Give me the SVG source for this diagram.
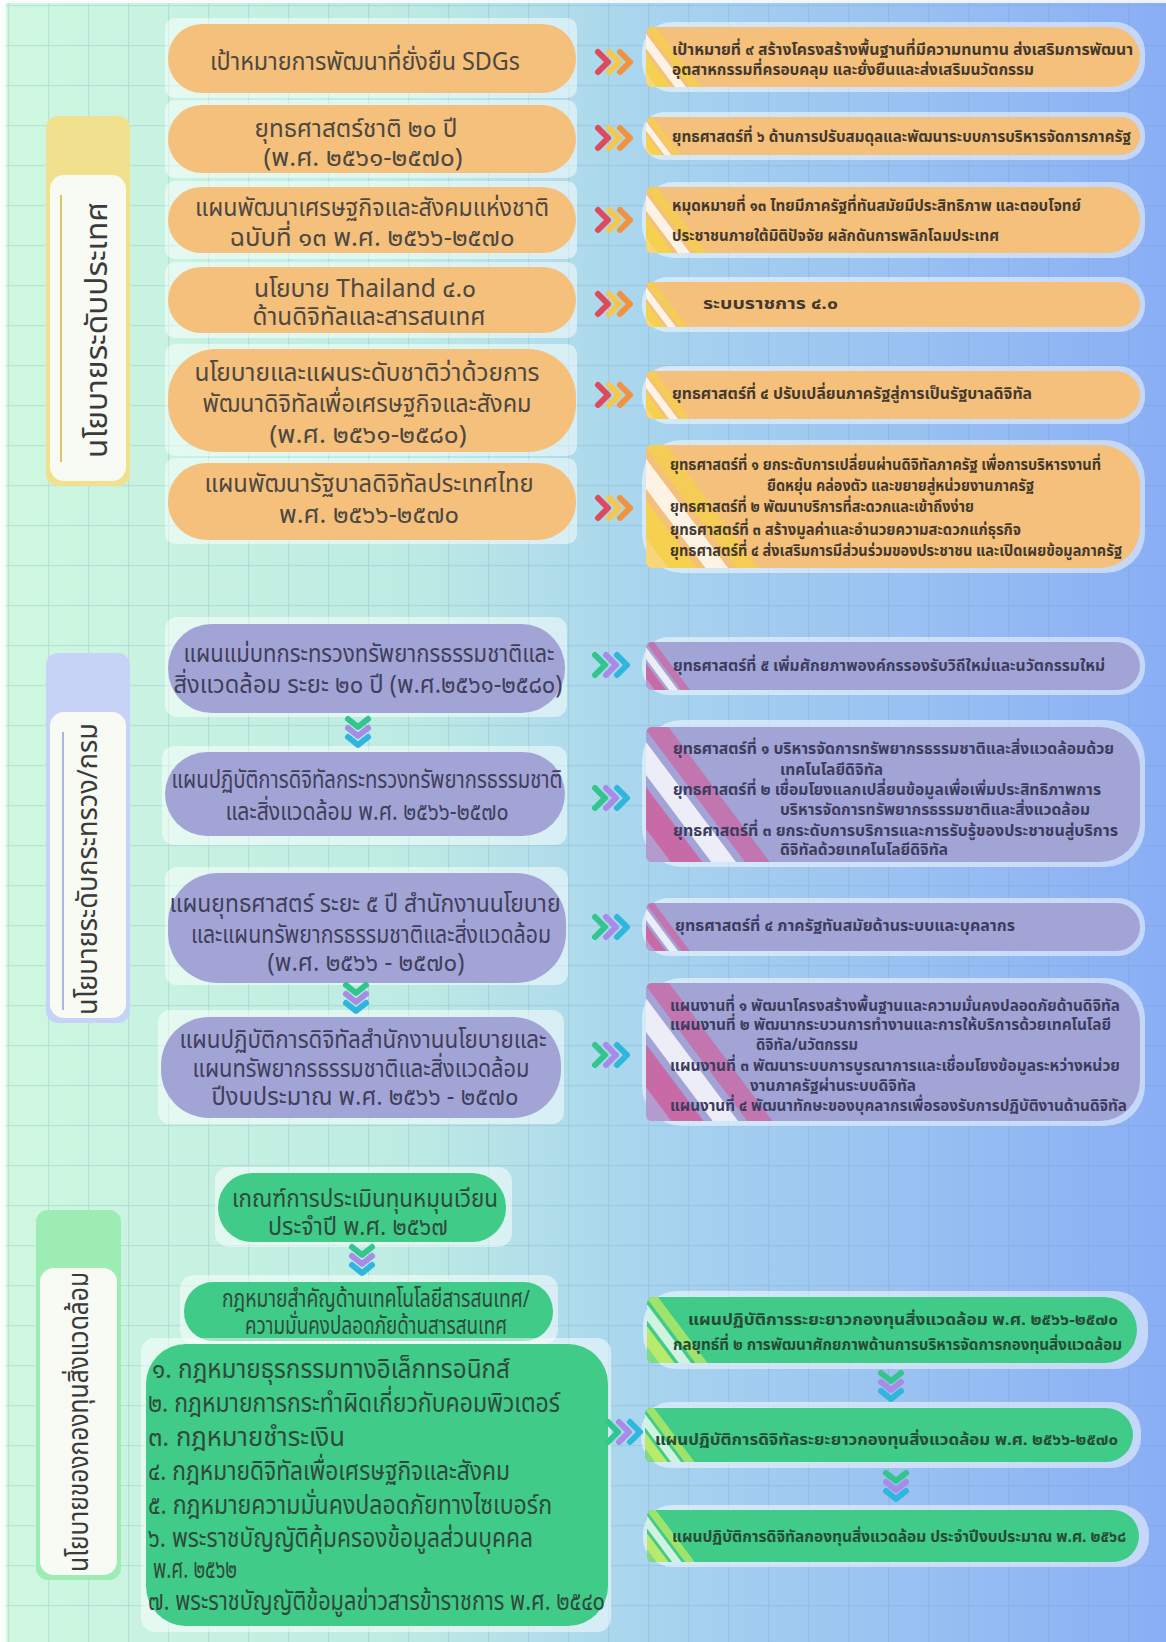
<svg xmlns="http://www.w3.org/2000/svg" xmlns:xlink="http://www.w3.org/1999/xlink" width="1166" height="1642" viewBox="0 0 1166 1642">
<style>
.t{font-family:"Noto Sans Thai","Noto Sans","DejaVu Sans","Liberation Sans",sans-serif}
.halo{fill:#ffffff;fill-opacity:.5}
.po{fill:#f4c07b}
.pp{fill:#a3a4d6}
.pg{fill:#40cb88}
.tl{font-size:25px;fill:#4e4842;text-anchor:middle}
.tlp{font-size:25px;fill:#3f3f5c;text-anchor:middle}
.tlg{font-size:24px;fill:#2f4a3c;text-anchor:middle}
.tg3{font-size:26px;fill:#2f4a3c}
.tr{font-size:16px;font-weight:bold;fill:#43392e}
.trp{font-size:16px;font-weight:bold;fill:#3c3c5e}
.trg{font-size:16px;font-weight:bold;fill:#264a36}
.lab{font-size:31px;fill:#3a3a3a;text-anchor:middle}
.ch{fill:none;stroke-width:6;stroke-linecap:round;stroke-linejoin:round}
</style>
<defs>
<linearGradient id="bg" x1="0" y1="0" x2="1" y2="0">
<stop offset="0" stop-color="#d0f8e0"/>
<stop offset="0.35" stop-color="#bdebe3"/>
<stop offset="0.55" stop-color="#a9d5ee"/>
<stop offset="1" stop-color="#8aaef5"/>
</linearGradient>
<pattern id="grid" x="8" y="5" width="40" height="40" patternUnits="userSpaceOnUse">
<path d="M0,0.5 H40 M0.5,0 V40" fill="none" stroke="#6f98c0" stroke-opacity="0.22" stroke-width="1.5"/>
</pattern>
<g id="chO">
<polyline class="ch" points="0,-10 10,0 0,10" stroke="#de4a5c"/>
<polyline class="ch" points="11,-10 21,0 11,10" stroke="#f4c84f"/>
<polyline class="ch" points="22,-10 32,0 22,10" stroke="#f2923f"/>
</g>
<g id="chP">
<polyline class="ch" points="0,-10 10,0 0,10" stroke="#34c48e"/>
<polyline class="ch" points="11,-10 21,0 11,10" stroke="#a88be6"/>
<polyline class="ch" points="22,-10 32,0 22,10" stroke="#2fb6dc"/>
</g>
<g id="chD">
<polyline class="ch" points="-10,0 0,8 10,0" stroke="#34c48e" stroke-width="5"/>
<polyline class="ch" points="-10,9 0,17 10,9" stroke="#a88be6" stroke-width="5"/>
<polyline class="ch" points="-10,18 0,26 10,18" stroke="#2fb6dc" stroke-width="5"/>
</g>
<g id="stO">
<polygon points="-80,0 -34,0 11,60 -80,60" fill="#f7d77a"/>
<polygon points="-34,0 -20,0 25,60 11,60" fill="#f6d04f"/>
<polygon points="-16,0 -5,0 40,60 29,60" fill="#ffffff" fill-opacity=".8"/>
<polygon points="-1,0 10,0 55,60 44,60" fill="#f5cc55"/>
</g>
<g id="stP">
<polygon points="-80,0 -34,0 11,60 -80,60" fill="#b59ad0"/>
<polygon points="-34,0 -20,0 25,60 11,60" fill="#c76aa6"/>
<polygon points="-16,0 -5,0 40,60 29,60" fill="#ffffff" fill-opacity=".8"/>
<polygon points="-1,0 10,0 55,60 44,60" fill="#c176b0"/>
</g>
<g id="stG">
<polygon points="-80,0 -34,0 11,60 -80,60" fill="#7fdc84"/>
<polygon points="-34,0 -20,0 25,60 11,60" fill="#b8ea6c"/>
<polygon points="-16,0 -5,0 40,60 29,60" fill="#ffffff" fill-opacity=".75"/>
<polygon points="-1,0 10,0 55,60 44,60" fill="#9ee36b"/>
</g>
<path id="pR1" d="M652,27 H1110 A30,30 0 0 1 1110,87 H652 A6,6 0 0 1 646,81 V33 A6,6 0 0 1 652,27 Z"/>
<path id="pR2" d="M652,117 H1121 A19,19 0 0 1 1121,155 H652 A6,6 0 0 1 646,149 V123 A6,6 0 0 1 652,117 Z"/>
<path id="pR3" d="M652,187 H1107 A33,33 0 0 1 1107,253 H652 A6,6 0 0 1 646,247 V193 A6,6 0 0 1 652,187 Z"/>
<path id="pR4" d="M652,282 H1117.5 A22.5,22.5 0 0 1 1117.5,327 H652 A6,6 0 0 1 646,321 V288 A6,6 0 0 1 652,282 Z"/>
<path id="pR5" d="M652,371 H1116 A24,24 0 0 1 1116,419 H652 A6,6 0 0 1 646,413 V377 A6,6 0 0 1 652,371 Z"/>
<path id="pR6" d="M652,445 H1100 A40,40 0 0 1 1140,485 V528 A40,40 0 0 1 1100,568 H652 A6,6 0 0 1 646,562 V451 A6,6 0 0 1 652,445 Z"/>
<path id="pP1" d="M652,642 H1116 A24,24 0 0 1 1116,690 H652 A6,6 0 0 1 646,684 V648 A6,6 0 0 1 652,642 Z"/>
<path id="pP2" d="M652,727 H1100 A40,40 0 0 1 1140,767 V822 A40,40 0 0 1 1100,862 H652 A6,6 0 0 1 646,856 V733 A6,6 0 0 1 652,727 Z"/>
<path id="pP3" d="M652,903 H1116 A24,24 0 0 1 1116,951 H652 A6,6 0 0 1 646,945 V909 A6,6 0 0 1 652,903 Z"/>
<path id="pP4" d="M652,983 H1100 A40,40 0 0 1 1140,1023 V1081 A40,40 0 0 1 1100,1121 H652 A6,6 0 0 1 646,1115 V989 A6,6 0 0 1 652,983 Z"/>
<path id="pG1" d="M653,1297 H1104 A33,33 0 0 1 1104,1363 H653 A6,6 0 0 1 647,1357 V1303 A6,6 0 0 1 653,1297 Z"/>
<path id="pG2" d="M651,1408 H1106 A27,27 0 0 1 1106,1462 H651 A6,6 0 0 1 645,1456 V1414 A6,6 0 0 1 651,1408 Z"/>
<path id="pG3" d="M653,1510 H1113 A26,26 0 0 1 1113,1562 H653 A6,6 0 0 1 647,1556 V1516 A6,6 0 0 1 653,1510 Z"/>
<clipPath id="cR1"><use xlink:href="#pR1"/></clipPath>
<clipPath id="cR2"><use xlink:href="#pR2"/></clipPath>
<clipPath id="cR3"><use xlink:href="#pR3"/></clipPath>
<clipPath id="cR4"><use xlink:href="#pR4"/></clipPath>
<clipPath id="cR5"><use xlink:href="#pR5"/></clipPath>
<clipPath id="cR6"><use xlink:href="#pR6"/></clipPath>
<clipPath id="cP1"><use xlink:href="#pP1"/></clipPath>
<clipPath id="cP2"><use xlink:href="#pP2"/></clipPath>
<clipPath id="cP3"><use xlink:href="#pP3"/></clipPath>
<clipPath id="cP4"><use xlink:href="#pP4"/></clipPath>
<clipPath id="cG1"><use xlink:href="#pG1"/></clipPath>
<clipPath id="cG2"><use xlink:href="#pG2"/></clipPath>
<clipPath id="cG3"><use xlink:href="#pG3"/></clipPath>
</defs>

<!-- background -->
<rect x="0" y="0" width="1166" height="1642" fill="url(#bg)"/>
<rect x="0" y="0" width="1166" height="1642" fill="url(#grid)"/>
<rect x="0" y="0" width="6" height="1642" fill="#ffffff" fill-opacity=".85"/>
<rect x="0" y="0" width="1166" height="3" fill="#ffffff" fill-opacity=".85"/>

<!-- section labels -->
<g id="label-national">
<rect x="46" y="116" width="84" height="370" rx="12" fill="#f1e08e"/>
<rect x="50" y="175" width="76" height="306" rx="14" fill="#f8fbf4"/>
<line x1="61" y1="195" x2="61" y2="462" stroke="#d8c56a" stroke-width="2"/>
<text class="t lab" transform="translate(107,330) rotate(-90)" textLength="256" lengthAdjust="spacingAndGlyphs">นโยบายระดับประเทศ</text>
</g>
<g id="label-ministry">
<rect x="46" y="653" width="84" height="370" rx="12" fill="#c6d2f6"/>
<rect x="50" y="712" width="76" height="306" rx="14" fill="#f8fbf4"/>
<line x1="63" y1="732" x2="63" y2="1010" stroke="#aab6e2" stroke-width="2"/>
<text class="t lab" style="font-size:28px" transform="translate(97,869) rotate(-90)" textLength="292" lengthAdjust="spacingAndGlyphs">นโยบายระดับกระทรวง/กรม</text>
</g>
<g id="label-fund">
<rect x="36" y="1210" width="85" height="370" rx="12" fill="#9cecb3"/>
<rect x="40" y="1268" width="77" height="307" rx="14" fill="#f8fbf4"/>
<text class="t lab" style="font-size:28px" transform="translate(88,1422) rotate(-90)" textLength="300" lengthAdjust="spacingAndGlyphs">นโยบายของกองทุนสิ่งแวดล้อม</text>
</g>

<!-- left orange nodes -->
<g id="n-sdgs">
<rect class="halo" x="165" y="18" width="412" height="80" rx="10"/>
<rect class="po" x="168" y="24" width="408" height="69" rx="34"/>
<text class="t tl" x="365" y="70" textLength="310" lengthAdjust="spacingAndGlyphs">เป้าหมายการพัฒนาที่ยั่งยืน SDGs</text>
</g>
<g id="n-strategy20">
<rect class="halo" x="165" y="100" width="412" height="78" rx="10"/>
<rect class="po" x="168" y="105" width="408" height="68" rx="34"/>
<text class="t tl" x="356" y="137" textLength="203" lengthAdjust="spacingAndGlyphs">ยุทธศาสตร์ชาติ ๒๐ ปี</text>
<text class="t tl" x="363" y="166" textLength="199" lengthAdjust="spacingAndGlyphs">(พ.ศ. ๒๕๖๑-๒๕๗๐)</text>
</g>
<g id="n-nesdp13">
<rect class="halo" x="165" y="181" width="412" height="78" rx="10"/>
<rect class="po" x="168" y="187" width="408" height="66" rx="33"/>
<text class="t tl" x="372" y="216" textLength="354" lengthAdjust="spacingAndGlyphs">แผนพัฒนาเศรษฐกิจและสังคมแห่งชาติ</text>
<text class="t tl" x="372" y="246" textLength="285" lengthAdjust="spacingAndGlyphs">ฉบับที่ ๑๓ พ.ศ. ๒๕๖๖-๒๕๗๐</text>
</g>
<g id="n-thailand40">
<rect class="halo" x="165" y="262" width="412" height="76" rx="10"/>
<rect class="po" x="168" y="267" width="408" height="66" rx="33"/>
<text class="t tl" x="365" y="297" textLength="222" lengthAdjust="spacingAndGlyphs">นโยบาย Thailand ๔.๐</text>
<text class="t tl" x="369" y="325" textLength="233" lengthAdjust="spacingAndGlyphs">ด้านดิจิทัลและสารสนเทศ</text>
</g>
<g id="n-digital-policy">
<rect class="halo" x="165" y="344" width="412" height="112" rx="10"/>
<rect class="po" x="168" y="349" width="408" height="103" rx="48"/>
<text class="t tl" x="367" y="381" textLength="345" lengthAdjust="spacingAndGlyphs">นโยบายและแผนระดับชาติว่าด้วยการ</text>
<text class="t tl" x="367" y="412" textLength="329" lengthAdjust="spacingAndGlyphs">พัฒนาดิจิทัลเพื่อเศรษฐกิจและสังคม</text>
<text class="t tl" x="368" y="443" textLength="197" lengthAdjust="spacingAndGlyphs">(พ.ศ. ๒๕๖๑-๒๕๘๐)</text>
</g>
<g id="n-digital-gov">
<rect class="halo" x="165" y="458" width="412" height="86" rx="10"/>
<rect class="po" x="168" y="463" width="408" height="77" rx="38"/>
<text class="t tl" x="369" y="492" textLength="329" lengthAdjust="spacingAndGlyphs">แผนพัฒนารัฐบาลดิจิทัลประเทศไทย</text>
<text class="t tl" x="369" y="523" textLength="180" lengthAdjust="spacingAndGlyphs">พ.ศ. ๒๕๖๖-๒๕๗๐</text>
</g>

<!-- right orange nodes -->
<g id="r-sdg9">
<rect class="halo" x="642" y="22" width="503" height="70" rx="30"/>
<use xlink:href="#pR1" class="po"/>
<g clip-path="url(#cR1)"><use xlink:href="#stO" transform="translate(646,27) scale(1)"/></g>
<text class="t tr" x="672" y="55" textLength="461" lengthAdjust="spacingAndGlyphs">เป้าหมายที่ ๙ สร้างโครงสร้างพื้นฐานที่มีความทนทาน ส่งเสริมการพัฒนา</text>
<text class="t tr" x="672" y="75" textLength="362" lengthAdjust="spacingAndGlyphs">อุตสาหกรรมที่ครอบคลุม และยั่งยืนและส่งเสริมนวัตกรรม</text>
</g>
<g id="r-strategy6">
<rect class="halo" x="642" y="112" width="503" height="48" rx="22"/>
<use xlink:href="#pR2" class="po"/>
<g clip-path="url(#cR2)"><use xlink:href="#stO" transform="translate(646,117) scale(0.633)"/></g>
<text class="t tr" x="672" y="142" textLength="459" lengthAdjust="spacingAndGlyphs">ยุทธศาสตร์ที่ ๖ ด้านการปรับสมดุลและพัฒนาระบบการบริหารจัดการภาครัฐ</text>
</g>
<g id="r-milestone13">
<rect class="halo" x="642" y="182" width="503" height="76" rx="32"/>
<use xlink:href="#pR3" class="po"/>
<g clip-path="url(#cR3)"><use xlink:href="#stO" transform="translate(646,187) scale(1.1)"/></g>
<text class="t tr" x="672" y="211" textLength="409" lengthAdjust="spacingAndGlyphs">หมุดหมายที่ ๑๓ ไทยมีภาครัฐที่ทันสมัยมีประสิทธิภาพ และตอบโจทย์</text>
<text class="t tr" x="672" y="241" textLength="327" lengthAdjust="spacingAndGlyphs">ประชาชนภายใต้มิติปัจจัย ผลักดันการพลิกโฉมประเทศ</text>
</g>
<g id="r-gov40">
<rect class="halo" x="642" y="277" width="503" height="55" rx="26"/>
<use xlink:href="#pR4" class="po"/>
<g clip-path="url(#cR4)"><use xlink:href="#stO" transform="translate(646,282) scale(0.75)"/></g>
<text class="t tr" x="703" y="309" textLength="135" lengthAdjust="spacingAndGlyphs">ระบบราชการ ๔.๐</text>
</g>
<g id="r-strategy4">
<rect class="halo" x="642" y="366" width="503" height="58" rx="27"/>
<use xlink:href="#pR5" class="po"/>
<g clip-path="url(#cR5)"><use xlink:href="#stO" transform="translate(646,371) scale(0.8)"/></g>
<text class="t tr" x="672" y="399" textLength="360" lengthAdjust="spacingAndGlyphs">ยุทธศาสตร์ที่ ๔ ปรับเปลี่ยนภาครัฐสู่การเป็นรัฐบาลดิจิทัล</text>
</g>
<g id="r-digitalgov-strategies">
<rect class="halo" x="642" y="440" width="503" height="133" rx="40"/>
<use xlink:href="#pR6" class="po"/>
<g clip-path="url(#cR6)"><use xlink:href="#stO" transform="translate(646,445) scale(2.05)"/></g>
<text class="t tr" x="670" y="470" textLength="431" lengthAdjust="spacingAndGlyphs">ยุทธศาสตร์ที่ ๑ ยกระดับการเปลี่ยนผ่านดิจิทัลภาครัฐ เพื่อการบริหารงานที่</text>
<text class="t tr" x="767" y="491" textLength="267" lengthAdjust="spacingAndGlyphs">ยืดหยุ่น คล่องตัว และขยายสู่หน่วยงานภาครัฐ</text>
<text class="t tr" x="670" y="512" textLength="304" lengthAdjust="spacingAndGlyphs">ยุทธศาสตร์ที่ ๒ พัฒนาบริการที่สะดวกและเข้าถึงง่าย</text>
<text class="t tr" x="670" y="535" textLength="351" lengthAdjust="spacingAndGlyphs">ยุทธศาสตร์ที่ ๓  สร้างมูลค่าและอำนวยความสะดวกแก่ธุรกิจ</text>
<text class="t tr" x="670" y="556" textLength="452" lengthAdjust="spacingAndGlyphs">ยุทธศาสตร์ที่ ๔ ส่งเสริมการมีส่วนร่วมของประชาชน และเปิดเผยข้อมูลภาครัฐ</text>
</g>

<!-- left purple nodes -->
<g id="n-mnre-master">
<rect class="halo" x="165" y="617" width="402" height="100" rx="12"/>
<rect class="pp" x="168" y="624" width="397" height="89" rx="44"/>
<text class="t tlp" x="369" y="662" textLength="371" lengthAdjust="spacingAndGlyphs">แผนแม่บทกระทรวงทรัพยากรธรรมชาติและ</text>
<text class="t tlp" x="368" y="693" textLength="389" lengthAdjust="spacingAndGlyphs">สิ่งแวดล้อม ระยะ ๒๐ ปี (พ.ศ.๒๕๖๑-๒๕๘๐)</text>
</g>
<g id="n-mnre-digital">
<rect class="halo" x="162" y="746" width="405" height="99" rx="12"/>
<rect class="pp" x="165" y="752" width="400" height="84" rx="42"/>
<text class="t tlp" x="367" y="788" textLength="391" lengthAdjust="spacingAndGlyphs">แผนปฏิบัติการดิจิทัลกระทรวงทรัพยากรธรรมชาติ</text>
<text class="t tlp" x="367" y="820" textLength="283" lengthAdjust="spacingAndGlyphs">และสิ่งแวดล้อม พ.ศ. ๒๕๖๖-๒๕๗๐</text>
</g>
<g id="n-onep-strategy">
<rect class="halo" x="165" y="867" width="403" height="118" rx="12"/>
<rect class="pp" x="168" y="873" width="398" height="110" rx="50"/>
<text class="t tlp" x="365" y="912" textLength="391" lengthAdjust="spacingAndGlyphs">แผนยุทธศาสตร์ ระยะ ๕ ปี สำนักงานนโยบาย</text>
<text class="t tlp" x="371" y="943" textLength="360" lengthAdjust="spacingAndGlyphs">และแผนทรัพยากรธรรมชาติและสิ่งแวดล้อม</text>
<text class="t tlp" x="366" y="971" textLength="197" lengthAdjust="spacingAndGlyphs">(พ.ศ. ๒๕๖๖ - ๒๕๗๐)</text>
</g>
<g id="n-onep-digital">
<rect class="halo" x="158" y="1010" width="406" height="114" rx="12"/>
<rect class="pp" x="161" y="1017" width="400" height="101" rx="48"/>
<text class="t tlp" x="363" y="1048" textLength="367" lengthAdjust="spacingAndGlyphs">แผนปฏิบัติการดิจิทัลสำนักงานนโยบายและ</text>
<text class="t tlp" x="361" y="1077" textLength="337" lengthAdjust="spacingAndGlyphs">แผนทรัพยากรธรรมชาติและสิ่งแวดล้อม</text>
<text class="t tlp" x="365" y="1105" textLength="307" lengthAdjust="spacingAndGlyphs">ปีงบประมาณ พ.ศ. ๒๕๖๖ - ๒๕๗๐</text>
</g>

<!-- right purple nodes -->
<g id="r-mnre-s5">
<rect class="halo" x="642" y="637" width="503" height="58" rx="27"/>
<use xlink:href="#pP1" class="pp"/>
<g clip-path="url(#cP1)"><use xlink:href="#stP" transform="translate(646,642) scale(0.8)"/></g>
<text class="t trp" x="673" y="671" textLength="432" lengthAdjust="spacingAndGlyphs">ยุทธศาสตร์ที่ ๕ เพิ่มศักยภาพองค์กรรองรับวิถีใหม่และนวัตกรรมใหม่</text>
</g>
<g id="r-mnre-digital-s">
<rect class="halo" x="642" y="720" width="503" height="147" rx="40"/>
<use xlink:href="#pP2" class="pp"/>
<g clip-path="url(#cP2)"><use xlink:href="#stP" transform="translate(646,727) scale(2.25)"/></g>
<text class="t trp" x="673" y="754" textLength="441" lengthAdjust="spacingAndGlyphs">ยุทธศาสตร์ที่ ๑ บริหารจัดการทรัพยากรธรรมชาติและสิ่งแวดล้อมด้วย</text>
<text class="t trp" x="780" y="775" textLength="103" lengthAdjust="spacingAndGlyphs">เทคโนโลยีดิจิทัล</text>
<text class="t trp" x="673" y="795" textLength="428" lengthAdjust="spacingAndGlyphs">ยุทธศาสตร์ที่ ๒ เชื่อมโยงแลกเปลี่ยนข้อมูลเพื่อเพิ่มประสิทธิภาพการ</text>
<text class="t trp" x="780" y="815" textLength="310" lengthAdjust="spacingAndGlyphs">บริหารจัดการทรัพยากรธรรมชาติและสิ่งแวดล้อม</text>
<text class="t trp" x="673" y="836" textLength="445" lengthAdjust="spacingAndGlyphs">ยุทธศาสตร์ที่ ๓ ยกระดับการบริการและการรับรู้ของประชาชนสู่บริการ</text>
<text class="t trp" x="780" y="855" textLength="168" lengthAdjust="spacingAndGlyphs">ดิจิทัลด้วยเทคโนโลยีดิจิทัล</text>
</g>
<g id="r-onep-s4">
<rect class="halo" x="642" y="898" width="503" height="58" rx="27"/>
<use xlink:href="#pP3" class="pp"/>
<g clip-path="url(#cP3)"><use xlink:href="#stP" transform="translate(646,903) scale(0.8)"/></g>
<text class="t trp" x="675" y="931" textLength="340" lengthAdjust="spacingAndGlyphs">ยุทธศาสตร์ที่ ๔ ภาครัฐทันสมัยด้านระบบและบุคลากร</text>
</g>
<g id="r-onep-plans">
<rect class="halo" x="642" y="978" width="503" height="148" rx="40"/>
<use xlink:href="#pP4" class="pp"/>
<g clip-path="url(#cP4)"><use xlink:href="#stP" transform="translate(646,983) scale(2.3)"/></g>
<text class="t trp" x="670" y="1011" textLength="450" lengthAdjust="spacingAndGlyphs">แผนงานที่ ๑ พัฒนาโครงสร้างพื้นฐานและความมั่นคงปลอดภัยด้านดิจิทัล</text>
<text class="t trp" x="670" y="1030" textLength="441" lengthAdjust="spacingAndGlyphs">แผนงานที่ ๒ พัฒนากระบวนการทำงานและการให้บริการด้วยเทคโนโลยี</text>
<text class="t trp" x="756" y="1050" textLength="102" lengthAdjust="spacingAndGlyphs">ดิจิทัล/นวัตกรรม</text>
<text class="t trp" x="670" y="1071" textLength="450" lengthAdjust="spacingAndGlyphs">แผนงานที่ ๓ พัฒนาระบบการบูรณาการและเชื่อมโยงข้อมูลระหว่างหน่วย</text>
<text class="t trp" x="750" y="1091" textLength="166" lengthAdjust="spacingAndGlyphs">งานภาครัฐผ่านระบบดิจิทัล</text>
<text class="t trp" x="670" y="1111" textLength="457" lengthAdjust="spacingAndGlyphs">แผนงานที่ ๔ พัฒนาทักษะของบุคลากรเพื่อรองรับการปฏิบัติงานด้านดิจิทัล</text>
</g>

<!-- left green nodes -->
<g id="n-fund-criteria">
<rect class="halo" x="215" y="1167" width="297" height="80" rx="14"/>
<rect class="pg" x="218" y="1173" width="288" height="69" rx="34"/>
<text class="t tlg" x="365" y="1207" textLength="266" lengthAdjust="spacingAndGlyphs">เกณฑ์การประเมินทุนหมุนเวียน</text>
<text class="t tlg" x="358" y="1235" textLength="180" lengthAdjust="spacingAndGlyphs">ประจำปี พ.ศ. ๒๕๖๗</text>
</g>
<g id="n-it-laws">
<rect class="halo" x="180" y="1275" width="378" height="69" rx="14"/>
<rect class="pg" x="184" y="1282" width="369" height="59" rx="29"/>
<text class="t tlg" x="376" y="1307" textLength="308" lengthAdjust="spacingAndGlyphs">กฎหมายสำคัญด้านเทคโนโลยีสารสนเทศ/</text>
<text class="t tlg" x="376" y="1334" textLength="262" lengthAdjust="spacingAndGlyphs">ความมั่นคงปลอดภัยด้านสารสนเทศ</text>
</g>
<g id="n-law-list">
<rect class="halo" x="141" y="1338" width="470" height="294" rx="14"/>
<rect class="pg" x="146" y="1344" width="462" height="282" rx="40"/>
<text class="t tg3" x="152" y="1378" textLength="358" lengthAdjust="spacingAndGlyphs">๑. กฎหมายธุรกรรมทางอิเล็กทรอนิกส์</text>
<text class="t tg3" x="148" y="1412" textLength="412" lengthAdjust="spacingAndGlyphs">๒. กฎหมายการกระทำผิดเกี่ยวกับคอมพิวเตอร์</text>
<text class="t tg3" x="148" y="1446" textLength="197" lengthAdjust="spacingAndGlyphs">๓. กฎหมายชำระเงิน</text>
<text class="t tg3" x="148" y="1480" textLength="362" lengthAdjust="spacingAndGlyphs">๔. กฎหมายดิจิทัลเพื่อเศรษฐกิจและสังคม</text>
<text class="t tg3" x="148" y="1514" textLength="404" lengthAdjust="spacingAndGlyphs">๕. กฎหมายความมั่นคงปลอดภัยทางไซเบอร์ก</text>
<text class="t tg3" x="148" y="1547" textLength="385" lengthAdjust="spacingAndGlyphs">๖. พระราชบัญญัติคุ้มครองข้อมูลส่วนบุคคล</text>
<text class="t tg3" x="153" y="1578" textLength="84" lengthAdjust="spacingAndGlyphs">พ.ศ. ๒๕๖๒</text>
<text class="t tg3" x="148" y="1610" textLength="457" lengthAdjust="spacingAndGlyphs">๗. พระราชบัญญัติข้อมูลข่าวสารข้าราชการ พ.ศ. ๒๕๔๐</text>
</g>

<!-- right green nodes -->
<g id="r-fund-longterm">
<rect class="halo" x="643" y="1291" width="505" height="78" rx="34"/>
<use xlink:href="#pG1" class="pg"/>
<g clip-path="url(#cG1)"><use xlink:href="#stG" transform="translate(647,1297) scale(1.1)"/></g>
<text class="t trg" x="688" y="1325" textLength="430" lengthAdjust="spacingAndGlyphs">แผนปฏิบัติการระยะยาวกองทุนสิ่งแวดล้อม พ.ศ. ๒๕๖๖-๒๕๗๐</text>
<text class="t trg" x="673" y="1350" textLength="449" lengthAdjust="spacingAndGlyphs">กลยุทธ์ที่ ๒ การพัฒนาศักยภาพด้านการบริหารจัดการกองทุนสิ่งแวดล้อม</text>
</g>
<g id="r-fund-digital-long">
<rect class="halo" x="641" y="1402" width="500" height="66" rx="30"/>
<use xlink:href="#pG2" class="pg"/>
<g clip-path="url(#cG2)"><use xlink:href="#stG" transform="translate(645,1408) scale(0.9)"/></g>
<text class="t trg" x="655" y="1445" textLength="463" lengthAdjust="spacingAndGlyphs">แผนปฏิบัติการดิจิทัลระยะยาวกองทุนสิ่งแวดล้อม พ.ศ. ๒๕๖๖-๒๕๗๐</text>
</g>
<g id="r-fund-digital-annual">
<rect class="halo" x="643" y="1505" width="506" height="62" rx="29"/>
<use xlink:href="#pG3" class="pg"/>
<g clip-path="url(#cG3)"><use xlink:href="#stG" transform="translate(647,1510) scale(0.87)"/></g>
<text class="t trg" x="672" y="1542" textLength="454" lengthAdjust="spacingAndGlyphs">แผนปฏิบัติการดิจิทัลกองทุนสิ่งแวดล้อม ประจำปีงบประมาณ พ.ศ. ๒๕๖๘</text>
</g>

<!-- connectors -->
<g id="connectors">
<use xlink:href="#chO" transform="translate(598,62)"/>
<use xlink:href="#chO" transform="translate(598,138)"/>
<use xlink:href="#chO" transform="translate(598,220)"/>
<use xlink:href="#chO" transform="translate(598,304)"/>
<use xlink:href="#chO" transform="translate(598,395)"/>
<use xlink:href="#chO" transform="translate(598,508)"/>
<use xlink:href="#chP" transform="translate(595,665)"/>
<use xlink:href="#chP" transform="translate(595,798)"/>
<use xlink:href="#chP" transform="translate(595,927)"/>
<use xlink:href="#chP" transform="translate(595,1055)"/>
<use xlink:href="#chP" transform="translate(608,1432)"/>
<use xlink:href="#chD" transform="translate(358,719)"/>
<use xlink:href="#chD" transform="translate(356,985)"/>
<use xlink:href="#chD" transform="translate(362,1247)"/>
<use xlink:href="#chD" transform="translate(891,1373)"/>
<use xlink:href="#chD" transform="translate(896,1473)"/>
</g>
</svg>
